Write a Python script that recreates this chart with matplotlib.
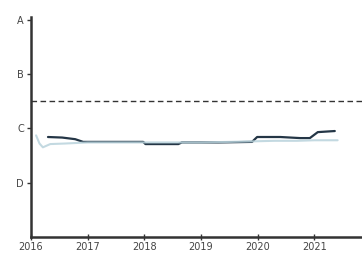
import matplotlib
matplotlib.use("Agg")
import matplotlib.pyplot as plt

# y-scale grades: D=1, C=2, B=3, A=4
grade_ticks = [1, 2, 3, 4]
grade_labels = ["D", "C", "B", "A"]
year_ticks = [2016, 2017, 2018, 2019, 2020, 2021]
target = 2.5

light_x = [2016.09, 2016.15, 2016.21, 2016.34, 2016.6, 2017.0, 2017.5, 2018.0, 2018.5,
           2019.0, 2019.5, 2019.9, 2020.3, 2020.7, 2021.0, 2021.41]
light_y = [1.87, 1.72, 1.65, 1.71, 1.72, 1.74, 1.74, 1.74, 1.74,
           1.74, 1.75, 1.76, 1.77, 1.77, 1.78, 1.78]

dark_x = [2016.30, 2016.55, 2016.78, 2016.92, 2017.5, 2017.98, 2018.02, 2018.6, 2018.66,
          2019.3, 2019.9, 2019.99, 2020.4, 2020.75, 2020.92, 2021.06, 2021.36]
dark_y = [1.84, 1.83, 1.80, 1.75, 1.75, 1.75, 1.71, 1.71, 1.74,
          1.74, 1.75, 1.84, 1.84, 1.82, 1.82, 1.93, 1.95]

fig = plt.figure(figsize=(3.62, 2.57), dpi=100)
ax = fig.add_axes([0.0856, 0.078, 0.9144, 0.856])

ax.plot(dark_x, dark_y, color="#243646", lw=1.6, solid_capstyle="round", zorder=2)
ax.plot(light_x, light_y, color="#b9d3dc", lw=1.5, alpha=0.85, solid_capstyle="round", zorder=3)
ax.axhline(target, color="#333333", lw=1.0, ls=(0, (4, 2.5)))

ax.set_xlim(2016, 2021.84)
ax.set_ylim(0, 4.05)
ax.set_yticks(grade_ticks, grade_labels)
ax.set_xticks(year_ticks)

for side in ("top", "right"):
    ax.spines[side].set_visible(False)
for side in ("left", "bottom"):
    ax.spines[side].set_color("#333333")
    ax.spines[side].set_linewidth(1.8)

ax.tick_params(axis="y", length=3, width=1, colors="#333333", labelsize=7, pad=2)
ax.tick_params(axis="x", direction="inout", length=5, width=1, colors="#333333",
               labelsize=7, pad=1)
for lbl in ax.get_xticklabels() + ax.get_yticklabels():
    lbl.set_color("#444444")

fig.savefig("out.png", dpi=100)
